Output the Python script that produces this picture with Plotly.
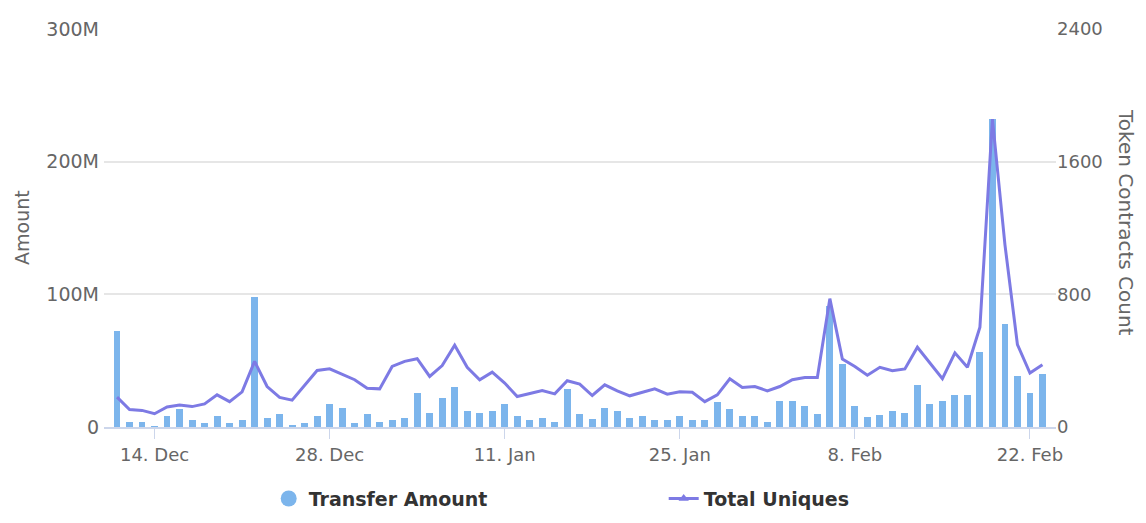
import plotly.graph_objects as go
import pandas as pd

dates = pd.date_range("2020-12-11", "2021-02-23", freq="D")

# Transfer Amount (millions)
transfer_amount_m = [
    72, 4, 4, 0.5, 8, 13.6, 5, 2.7, 8, 2.7, 5.5, 97.7, 7, 9.5, 1.5,
    2.7, 8, 17.3, 14.6, 2.7, 9.5, 4, 5.3, 7, 25.4, 10.8, 21.6, 30.4, 12, 10.8,
    12, 17.3, 8, 5.3, 7, 4, 29, 9.5, 5.8, 14.6, 12, 7, 8, 5.3, 5.3,
    8, 5.3, 5.3, 18.6, 13.3, 8, 8, 4, 19.8, 19.8, 15.8, 9.5, 91, 47.5, 15.8,
    7.8, 9, 12, 10.8, 31.6, 17.3, 19.8, 24, 24, 56.7, 232, 78, 38.4, 25.4, 40,
]
transfer_amount = [v * 1e6 for v in transfer_amount_m]

# Total Uniques
total_uniques = [
    180, 105, 100, 80, 121, 133, 123, 139, 194, 153, 212, 396, 244, 178, 162,
    254, 341, 351, 319, 285, 234, 230, 365, 396, 412, 305, 370, 493, 360, 285,
    331, 265, 184, 204, 220, 200, 279, 259, 190, 254, 218, 188, 210, 230, 198,
    212, 210, 153, 194, 291, 238, 244, 218, 244, 285, 299, 299, 774, 410, 365,
    312, 360, 339, 350, 481, 386, 291, 447, 360, 602, 1856, 1100, 497, 325, 376,
]

tick_dates = ["2020-12-14", "2020-12-28", "2021-01-11", "2021-01-25", "2021-02-08", "2021-02-22"]
tick_labels = ["14. Dec", "28. Dec", "11. Jan", "25. Jan", "8. Feb", "22. Feb"]

left_ticks = [0, 1e8, 2e8, 3e8]
left_labels = ["0", "100M", "200M", "300M"]
right_ticks = [0, 800, 1600, 2400]

BAR_COLOR = "#7cb5ec"
LINE_COLOR = "#7d7ae4"
FONT = "DejaVu Sans"

fig = go.Figure()
fig.add_trace(go.Bar(
    x=dates, y=transfer_amount, marker_color=BAR_COLOR, marker_line_width=0,
    width=0.55 * 86400000, showlegend=False, name="Transfer Amount",
))
fig.add_trace(go.Scatter(
    x=dates, y=total_uniques, mode="lines", yaxis="y2",
    line=dict(color=LINE_COLOR, width=3), showlegend=False, name="Total Uniques",
))
# legend entries
fig.add_trace(go.Scatter(
    x=[None], y=[None], mode="markers", name="Transfer Amount",
    marker=dict(color=BAR_COLOR, size=16, symbol="circle"),
))
fig.add_trace(go.Scatter(
    x=[None], y=[None], mode="lines+markers", name="Total Uniques", yaxis="y2",
    line=dict(color=LINE_COLOR, width=3),
    marker=dict(color=LINE_COLOR, size=9, symbol="triangle-up"),
))

fig.update_layout(
    width=1130, height=507,
    margin=dict(l=96, r=82, t=21, b=88, autoexpand=False),
    paper_bgcolor="white", plot_bgcolor="white",
    font=dict(family=FONT, color="#666666", size=18),
    bargap=0,
    xaxis=dict(
        type="date", automargin=False,
        range=["2020-12-09 23:00", "2021-02-24 02:00"],
        tickvals=tick_dates, ticktext=tick_labels,
        ticks="outside", ticklen=10, tickcolor="#ccd6eb", tickwidth=1,
        showline=True, linecolor="#ccd6eb", linewidth=2,
        showgrid=False, zeroline=False,
        tickfont=dict(size=18, color="#666666"),
    ),
    yaxis=dict(
        range=[0, 3e8], tickvals=left_ticks, ticktext=left_labels, automargin=False,
        showgrid=True, gridcolor="#e6e6e6", gridwidth=2, zeroline=False,
        ticks="", tickfont=dict(size=19, color="#666666"), ticklabelstandoff=4,
    ),
    yaxis2=dict(
        range=[0, 2400], tickvals=right_ticks, overlaying="y", side="right",
        showgrid=False, zeroline=False, ticks="", automargin=False,
        tickfont=dict(size=18, color="#666666"),
    ),
    legend=dict(
        orientation="h", x=0.173, xanchor="left", y=-0.18, yanchor="middle",
        font=dict(family="DejaVu Sans", size=19, color="#333333", weight="bold"),
        entrywidth=350, itemsizing="trace",
    ),
    annotations=[
        dict(
            text="Token Contracts Count", textangle=90, xref="paper", yref="paper",
            x=1.0, xshift=84, y=0.515, showarrow=False,
            font=dict(size=20, color="#666666"),
        ),
        dict(
            text="Amount", textangle=-90, xref="paper", yref="paper",
            x=0.0, xshift=-95, y=0.5, showarrow=False,
            font=dict(size=19, color="#666666"),
        ),
    ],
)

fig.write_html("out.html")
